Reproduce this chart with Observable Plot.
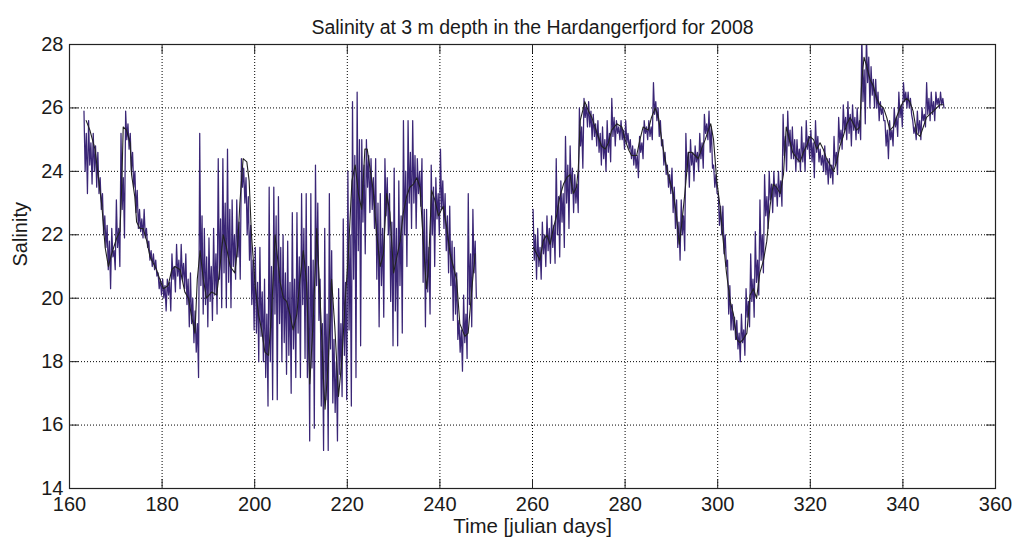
<!DOCTYPE html>
<html><head><meta charset="utf-8">
<script src="https://cdn.jsdelivr.net/npm/d3@7"></script>
<script src="https://cdn.jsdelivr.net/npm/@observablehq/plot@0.6"></script>
<style>body{margin:0;background:#fff} #chart svg{display:block}</style>
</head><body><div id="chart"></div>
<script>
const title = "Salinity at 3 m depth in the Hardangerfjord for 2008";
const xLabel = "Time [julian days]";
const yLabel = "Salinity";
const xTicks = [160,180,200,220,240,260,280,300,320,340,360];
const yTicks = [14,16,18,20,22,24,26,28];

// raw (hourly) series read per day: main high / low and secondary high / low
// segment 1 starts day 163, segment 2 day 260
const seg1Start = 163;
const blueHi1 = [25.9,25.6,25.2,24.6,23.3,22.3,22.2,23.1,25.2,25.9,25.2,24.0,22.8,22.8,21.8,21.4,20.8,20.6,20.6,21.4,21.7,21.7,21.4,20.8,19.6,25.2,22.2,21.9,22.2,24.4,24.4,24.7,23.1,23.1,24.4,23.8,22.3,21.6,21.6,20.6,23.5,23.5,23.2,22.0,21.8,22.7,22.7,23.3,23.3,23.3,24.2,20.6,22.2,23.3,18.7,20.3,22.5,24.0,26.2,26.5,25.0,25.0,24.4,24.4,23.3,24.4,23.3,24.1,23.7,25.6,25.6,25.6,24.4,24.4,22.8,24.2,23.8,24.7,23.3,22.9,21.6,19.3,20.1,23.3,22.8];
const blueLo1 = [23.3,23.6,23.5,22.8,21.6,20.3,20.9,21.0,21.9,24.7,23.5,22.2,21.9,21.6,21.0,20.7,20.1,19.6,19.6,20.2,20.3,20.3,19.1,18.6,17.5,19.5,19.1,19.3,19.5,19.7,19.7,19.7,20.6,20.6,23.0,21.2,19.0,18.0,18.0,16.6,16.8,16.8,18.0,17.6,17.0,17.5,17.5,18.1,15.5,15.9,19.3,15.2,15.2,16.7,15.5,16.9,16.8,16.6,17.5,18.5,21.4,22.7,22.2,19.1,19.4,22.0,18.5,18.5,18.9,21.0,22.2,22.2,22.9,19.1,19.5,21.0,22.0,22.2,20.8,19.3,18.7,17.7,18.1,19.1,20.0];
const blueHiB1 = [25.2,24.9,24.8,23.8,22.6,21.8,21.5,22.2,23.8,25.5,24.6,23.4,22.5,22.2,21.5,21.2,20.6,20.4,20.5,21.0,21.2,21.1,20.6,20.0,19.2,22.6,21.3,21.0,21.4,22.5,23.0,22.8,22.0,22.4,24.1,23.2,21.2,20.5,20.2,19.5,21.0,22.6,21.6,20.8,20.5,20.6,21.3,22.2,21.0,21.2,23.0,19.2,19.5,21.5,18.0,19.2,20.5,22.0,24.5,25.0,24.2,24.5,23.8,23.0,22.2,23.8,22.4,22.2,22.6,24.0,24.6,24.5,24.0,22.8,21.6,23.5,23.3,23.7,22.6,21.8,20.8,19.0,19.5,21.4,21.8];
const blueLoB1 = [24.0,24.2,24.0,23.3,22.0,20.9,21.3,21.6,22.8,25.0,24.0,22.7,22.1,21.9,21.2,20.9,20.3,20.0,20.1,20.6,20.7,20.6,19.8,19.2,18.3,20.4,19.8,19.9,20.1,20.6,20.8,20.5,21.0,21.3,23.5,22.0,19.8,18.9,18.8,17.5,18.0,19.5,19.2,18.6,18.2,18.4,18.9,19.8,17.5,17.8,20.4,16.6,16.8,18.4,16.4,17.6,18.2,19.0,20.6,21.5,22.4,23.5,22.8,20.6,20.4,22.6,19.9,19.6,20.4,22.0,23.0,23.0,23.3,20.5,20.2,22.0,22.5,22.8,21.5,20.4,19.5,18.3,18.6,19.8,20.8];
const seg2Start = 260;
const blueHi2 = [22.8,22.2,22.4,22.6,22.6,24.4,23.7,25.1,24.8,23.9,26.0,26.3,26.2,25.8,25.6,25.4,25.6,26.3,25.6,25.6,25.6,25.0,24.7,25.1,25.6,25.6,26.8,26.0,25.0,24.2,24.1,23.1,23.1,25.2,25.0,24.8,25.2,25.8,25.9,24.2,23.3,22.9,21.2,19.8,19.3,19.5,20.3,21.4,22.1,23.1,23.9,24.0,24.0,24.0,25.8,25.9,25.4,25.0,25.4,25.6,25.3,25.6,24.7,24.8,24.4,25.1,25.7,26.1,26.2,26.1,26.0,28.3,28.3,27.3,26.9,26.2,25.6,25.6,26.0,26.5,26.8,26.5,25.6,25.9,26.0,26.8,26.5,26.5,26.5];
const blueLo2 = [20.6,20.6,21.0,21.1,21.1,21.3,21.6,22.2,22.7,22.7,24.1,25.4,25.0,24.8,24.2,24.0,24.3,24.8,25.0,24.7,24.7,24.2,23.8,24.4,25.0,25.0,25.6,24.8,23.9,23.3,22.2,21.2,21.5,23.5,23.7,24.0,24.1,25.0,24.1,23.3,22.0,21.0,19.0,18.7,18.0,18.2,19.1,19.4,20.1,20.8,22.2,22.7,22.9,22.9,24.0,24.4,24.0,24.0,24.0,24.4,23.8,24.3,24.0,23.6,23.6,23.9,24.7,25.0,24.8,25.0,25.0,25.5,26.0,26.0,25.6,25.6,24.4,24.8,25.1,25.4,26.0,25.8,25.0,25.0,25.4,25.6,25.6,26.0,26.0];
const blueHiB2 = [22.0,21.6,22.0,22.2,22.3,23.2,23.3,24.2,24.1,23.6,25.4,26.1,25.9,25.5,25.2,25.0,25.2,25.7,25.4,25.3,25.2,24.8,24.5,24.9,25.4,25.4,26.2,25.6,24.6,23.9,23.5,22.4,22.6,24.6,24.6,24.6,24.9,25.5,25.4,23.9,22.9,22.0,20.4,19.4,18.9,19.0,19.9,20.6,21.2,22.0,23.2,23.6,23.6,23.7,25.1,25.3,25.0,24.7,24.9,25.1,24.9,25.1,24.5,24.4,24.2,24.6,25.3,25.7,25.8,25.7,25.6,27.2,27.6,26.9,26.5,26.0,25.3,25.3,25.7,26.1,26.5,26.3,25.4,25.6,25.8,26.3,26.2,26.3,26.3];
const blueLoB2 = [21.2,21.0,21.4,21.5,21.6,22.0,22.4,23.0,23.3,23.0,24.8,25.7,25.4,25.1,24.6,24.4,24.6,25.1,25.2,25.0,24.9,24.4,24.1,24.6,25.2,25.1,25.8,25.1,24.2,23.5,22.7,21.6,22.0,24.0,24.2,24.3,24.4,25.2,24.6,23.5,22.3,21.4,19.5,19.0,18.4,18.6,19.4,19.9,20.5,21.2,22.6,23.1,23.2,23.2,24.5,24.8,24.4,24.3,24.3,24.7,24.3,24.6,24.2,23.9,23.8,24.2,24.9,25.3,25.2,25.3,25.2,26.2,26.8,26.4,26.0,25.8,24.8,25.0,25.4,25.7,26.2,26.0,25.2,25.2,25.6,25.8,25.8,26.1,26.1];

// smoothed (daily mean) series as [day, salinity]
const smooth1 = [[163.6,25.6],[164.4,25.3],[165.5,24.7],[167.0,22.9],[167.7,21.6],[168.4,21.0],[169.1,21.4],[170.2,21.9],[170.9,22.1],[171.3,23.6],[171.6,25.4],[172.3,25.3],[173.1,24.9],[173.4,23.9],[174.1,23.2],[174.5,22.4],[175.2,22.2],[175.9,22.2],[176.7,21.8],[177.4,21.3],[178.1,21.1],[178.8,20.9],[179.5,20.6],[180.3,20.3],[181.3,20.4],[182.1,20.9],[182.8,21.0],[183.9,20.9],[184.9,20.2],[185.7,20.0],[186.4,19.4],[187.1,18.9],[187.6,20.6],[188.2,21.5],[188.9,20.6],[189.6,20.0],[190.7,20.2],[191.8,20.1],[192.5,21.0],[193.2,22.0],[193.9,21.6],[194.7,21.0],[195.7,20.8],[196.3,21.6],[196.8,23.0],[197.5,24.4],[198.3,24.3],[198.8,23.7],[199.3,22.0],[200.1,20.4],[200.8,19.5],[201.5,19.0],[202.2,18.3],[203.0,18.2],[203.7,19.7],[204.4,22.0],[205.5,20.5],[206.2,20.0],[206.9,19.9],[207.6,19.5],[208.3,19.0],[209.1,19.5],[209.8,20.6],[210.5,21.5],[211.2,20.5],[211.9,17.3],[212.7,19.5],[213.4,22.2],[214.1,20.1],[214.8,17.6],[215.2,16.5],[215.9,18.0],[216.6,20.6],[217.3,19.1],[218.1,16.9],[218.8,18.0],[219.5,19.8],[220.2,21.3],[221.0,23.7],[221.7,24.2],[222.4,23.3],[223.1,22.8],[223.8,24.7],[224.3,24.7],[224.9,24.1],[225.6,23.4],[226.3,22.1],[227.1,21.0],[227.8,21.4],[228.5,23.3],[229.2,22.7],[230.0,20.8],[230.7,21.3],[231.4,21.8],[232.1,22.7],[232.8,23.2],[233.5,23.5],[234.3,23.6],[235.0,23.8],[235.7,23.5],[236.4,21.8],[237.1,20.3],[237.5,20.9],[238.2,23.4],[238.9,23.1],[239.7,22.6],[240.7,22.9],[241.5,22.2],[242.2,21.4],[242.9,21.0],[243.6,20.6],[244.3,19.2],[245.4,18.8],[246.1,18.9],[246.9,20.3],[247.6,21.4]];
const smooth2 = [[260.2,21.6],[260.9,21.4],[261.6,21.2],[262.3,21.8],[263.1,22.0],[263.8,21.7],[264.5,22.2],[265.2,22.6],[265.9,23.2],[266.7,23.6],[267.4,23.8],[268.1,23.9],[268.8,23.3],[269.5,23.5],[269.9,24.1],[270.3,25.6],[271.0,26.0],[271.3,26.2],[272.1,25.9],[272.8,25.7],[273.5,25.4],[274.2,25.1],[274.9,24.8],[275.7,24.7],[276.4,24.9],[277.1,25.3],[278.2,25.5],[279.3,25.4],[280.0,25.0],[280.7,24.7],[281.4,24.5],[282.5,24.5],[283.2,25.0],[283.9,25.4],[285.0,25.3],[285.7,25.7],[286.5,26.0],[287.2,25.7],[287.9,25.0],[288.6,24.4],[289.3,23.9],[290.4,23.3],[291.1,22.6],[291.7,21.7],[292.2,22.3],[292.9,23.3],[293.7,24.6],[294.4,24.6],[295.1,24.5],[295.8,24.4],[296.5,24.7],[297.3,25.0],[298.0,25.3],[298.5,25.5],[299.1,25.0],[299.8,23.7],[300.5,22.9],[301.2,21.8],[301.9,20.8],[302.7,19.9],[303.4,19.5],[304.1,18.7],[304.8,18.6],[305.5,18.7],[306.3,18.9],[307.0,20.1],[307.7,20.3],[308.4,20.0],[309.1,20.8],[309.9,21.2],[310.6,21.8],[311.3,22.9],[312.0,23.6],[312.7,23.5],[313.5,23.3],[314.2,23.9],[314.8,25.4],[315.5,25.0],[316.2,24.6],[317.1,24.4],[317.8,24.3],[318.5,24.6],[319.2,24.8],[319.9,25.1],[320.7,25.0],[321.4,24.7],[322.1,24.9],[322.8,24.7],[323.5,24.4],[324.3,24.2],[325.0,24.0],[325.7,24.3],[326.4,24.8],[327.1,25.1],[327.9,25.5],[328.6,25.7],[329.3,25.5],[330.0,25.3],[330.7,25.4],[331.1,26.8],[331.6,27.6],[332.2,27.3],[332.9,26.9],[333.6,26.7],[334.3,26.3],[335.0,26.1],[335.8,26.0],[336.5,25.7],[337.2,25.3],[337.9,25.4],[338.6,25.7],[339.4,26.0],[340.1,26.2],[340.8,26.3],[341.5,26.2],[342.2,25.9],[343.0,25.2],[343.7,25.1],[344.4,25.4],[345.1,25.7],[345.8,25.8],[346.6,25.9],[347.3,26.0],[348.0,26.1],[348.7,26.1]];

// four readings per day: main high, secondary low, secondary high, main low
function rawSeries(start, hi, loB, hiB, lo, seg) {
  const out = [];
  hi.forEach((h, i) => {
    out.push({day: start + i + 0.125, v: h, seg});
    out.push({day: start + i + 0.375, v: loB[i], seg});
    out.push({day: start + i + 0.625, v: hiB[i], seg});
    out.push({day: start + i + 0.875, v: lo[i], seg});
  });
  return out;
}
const raw = rawSeries(seg1Start, blueHi1, blueLoB1, blueHiB1, blueLo1, 1)
  .concat(rawSeries(seg2Start, blueHi2, blueLoB2, blueHiB2, blueLo2, 2));
const smooth = smooth1.map(([d, v]) => ({day: d, v, seg: 1})).concat(smooth2.map(([d, v]) => ({day: d, v, seg: 2})));

const W = 1013, H = 543, mL = 69, mR = 18, mT = 44, mB = 55;
const fw = W - mL - mR, fh = H - mT - mB, tk = 9;
const font = "'Liberation Sans', Arial, Helvetica, sans-serif";

const chart = Plot.plot({
  width: W, height: H,
  marginLeft: mL, marginRight: mR, marginTop: mT, marginBottom: mB,
  style: {fontFamily: font, fontSize: "20px", color: "#1a1a1a", background: "#fff"},
  x: {domain: [160, 360]},
  y: {domain: [14, 28]},
  marks: [
    Plot.gridX(xTicks.slice(1, -1), {stroke: "#000", strokeOpacity: 1, strokeWidth: 1, strokeDasharray: "1,2"}),
    Plot.gridY(yTicks.slice(1, -1), {stroke: "#000", strokeOpacity: 1, strokeWidth: 1, strokeDasharray: "1,2"}),
    Plot.line(raw, {x: "day", y: "v", z: "seg", stroke: "#3a2676", strokeWidth: 1.25, clip: true}),
    Plot.line(smooth, {x: "day", y: "v", z: "seg", stroke: "#222", strokeWidth: 1.1, clip: true}),
    Plot.tickX(xTicks, {x: d => d, insetTop: fh - tk, stroke: "#222"}),
    Plot.tickX(xTicks, {x: d => d, insetBottom: fh - tk, stroke: "#222"}),
    Plot.tickY(yTicks, {y: d => d, insetRight: fw - tk, stroke: "#222"}),
    Plot.tickY(yTicks, {y: d => d, insetLeft: fw - tk, stroke: "#222"}),
    Plot.frame({stroke: "#222", strokeWidth: 1.2}),
    Plot.axisX(xTicks, {tickSize: 0, tickPadding: 8, fontSize: 20, label: null}),
    Plot.axisY(yTicks, {tickSize: 0, tickPadding: 6, fontSize: 20, label: null}),
    Plot.text([title], {frameAnchor: "top", dy: -24, fontSize: 19.5, fill: "#1a1a1a"}),
    Plot.text([xLabel], {frameAnchor: "bottom", dy: 44, fontSize: 20.5, fill: "#1a1a1a"}),
    Plot.text([yLabel], {frameAnchor: "left", dx: -49, rotate: -90, fontSize: 20, fill: "#1a1a1a"})
  ]
});
document.getElementById("chart").appendChild(chart);
</script>
</body></html>
